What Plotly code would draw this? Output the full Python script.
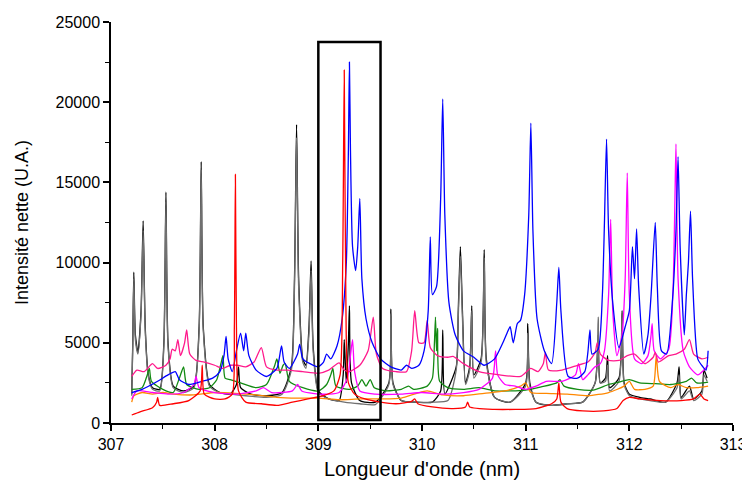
import plotly.graph_objects as go

# ---------------- data ----------------
black_x = [307.20,307.21,307.22,307.235,307.26,307.29,307.31,307.33,307.36,307.40,307.47,307.51,307.53,307.55,307.60,307.70,307.80,307.85,307.87,307.89,307.95,308.05,308.15,308.21,308.23,308.25,308.35,308.50,308.65,308.74,308.77,308.79,308.81,308.85,308.88,308.91,308.93,308.95,309.00,309.10,309.20,309.24,309.25,309.27,309.29,309.30,309.32,309.40,309.55,309.68,309.70,309.72,309.80,309.95,310.10,310.18,310.20,310.22,310.33,310.35,310.37,310.39,310.42,310.46,310.48,310.50,310.57,310.60,310.62,310.70,310.85,311.00,311.02,311.04,311.10,311.25,311.40,311.55,311.67,311.70,311.72,311.77,311.79,311.81,311.90,311.93,311.95,312.00,312.10,312.20,312.35,312.46,312.48,312.50,312.58,312.62,312.70,312.72,312.75]
black_y = [1800,5000,9400,5500,4400,7000,12600,6000,3000,2200,2100,5000,14400,5000,2300,2000,2300,6000,16300,6000,2400,1900,1800,2400,3500,2200,1800,1700,1900,3500,9000,18600,9000,4000,3600,6000,10100,4800,2000,1500,1400,3000,5200,2500,5000,7300,2500,1400,1300,2500,7100,2500,1400,1300,1300,2000,5800,1800,3500,7000,11000,7000,2500,3500,7300,3000,4000,10800,4000,1600,1300,2500,6200,2500,1300,1100,1200,1300,2500,5500,2500,2800,4200,2200,2800,7000,2500,1800,1600,1500,1300,2500,3500,1600,2300,1500,2000,3300,2800]

gray_x = [307.20,307.21,307.22,307.235,307.26,307.29,307.31,307.33,307.36,307.40,307.47,307.51,307.53,307.55,307.60,307.70,307.80,307.85,307.87,307.89,307.95,308.05,308.15,308.30,308.50,308.65,308.74,308.77,308.79,308.81,308.85,308.88,308.91,308.93,308.95,309.00,309.10,309.25,309.40,309.55,309.68,309.70,309.72,309.80,309.95,310.10,310.25,310.33,310.35,310.37,310.39,310.42,310.46,310.48,310.50,310.57,310.60,310.62,310.70,310.85,311.00,311.02,311.04,311.10,311.25,311.40,311.55,311.67,311.70,311.72,311.77,311.79,311.81,311.90,311.93,311.95,312.00,312.10,312.20,312.35,312.46,312.48,312.50,312.58,312.62,312.70,312.72,312.75]
gray_y = [1700,4800,9000,5200,4300,6800,12000,5800,2900,2100,2000,4800,13800,4800,2200,1900,2200,5800,15800,5800,2300,1900,1800,1700,1600,1800,3300,8500,17800,8500,3800,3400,5600,9500,4500,1900,1500,1300,1200,1150,2400,6800,2400,1400,1300,1300,1400,3300,6600,10400,6600,2400,3300,7000,2800,3800,10300,3800,1600,1300,2300,5600,2300,1300,1100,1200,1300,2500,6600,2500,2600,3600,2000,2600,6800,2400,1700,1500,1400,1300,2200,3000,1500,2000,1400,1800,3000,2600]

blue_x = [307.20,307.30,307.45,307.55,307.62,307.66,307.75,307.88,307.98,308.05,308.09,308.11,308.13,308.17,308.21,308.25,308.28,308.30,308.33,308.40,308.50,308.60,308.645,308.67,308.72,308.80,308.82,308.85,308.92,309.00,309.05,309.08,309.12,309.18,309.23,309.27,309.29,309.30,309.31,309.33,309.36,309.38,309.40,309.42,309.46,309.52,309.60,309.70,309.80,309.85,309.90,309.97,310.02,310.06,310.08,310.10,310.14,310.18,310.20,310.22,310.26,310.32,310.40,310.50,310.60,310.70,310.78,310.82,310.85,310.88,310.92,310.95,310.99,311.03,311.05,311.07,311.11,311.18,311.25,311.30,311.32,311.34,311.41,311.50,311.57,311.60,311.62,311.64,311.70,311.74,311.76,311.78,311.80,311.84,311.90,311.96,312.00,312.03,312.05,312.07,312.09,312.14,312.18,312.21,312.25,312.27,312.31,312.36,312.42,312.45,312.47,312.49,312.53,312.55,312.57,312.59,312.61,312.66,312.71,312.74,312.76]
blue_y = [1900,2100,2600,3000,3200,2700,2400,2600,2800,3200,4200,5400,4000,3200,4500,5600,4500,5600,4200,3300,2900,3400,4800,3800,3400,4300,4900,4000,3700,3500,3800,4300,4000,4800,6500,10000,17000,22500,17000,11000,9500,11000,14000,9000,6500,5000,4000,3500,3300,3600,3400,3600,4500,7000,11600,8000,8500,14000,20200,13000,7500,5500,4500,4100,3600,4000,5000,5600,6000,5000,6200,6400,8000,13000,18700,12000,6500,4500,3700,7500,9700,7000,2900,2800,3200,4400,5800,4300,4600,8000,12500,17700,12000,7500,4700,6000,7000,11000,9000,12100,8500,4300,5500,8000,12500,8500,4500,4300,8000,12000,16600,11000,5500,8000,10000,13200,9000,4000,3500,3300,4500]

red_x = [307.20,307.28,307.40,307.44,307.45,307.47,307.60,307.75,307.86,307.88,307.90,308.00,308.10,308.17,308.19,308.20,308.21,308.23,308.30,308.45,308.60,308.75,308.90,309.05,309.15,309.21,309.235,309.25,309.265,309.29,309.35,309.45,309.60,309.75,309.90,309.93,309.96,310.10,310.30,310.42,310.44,310.46,310.70,310.90,311.10,311.25,311.30,311.32,311.34,311.40,311.55,311.75,311.88,311.94,312.00,312.10,312.30,312.50,312.62,312.68,312.72,312.76]
red_y = [500,700,950,1300,1600,1100,1200,1400,2000,3600,1800,1500,1500,1800,6000,15500,6000,2000,1300,1200,1100,1300,1500,1700,2000,3000,10000,22000,8000,2500,1800,1500,1300,1200,1350,1500,1200,1000,900,1000,1300,1000,850,850,900,1200,1500,2500,1300,900,750,750,900,1400,1600,1500,1400,1400,1500,1800,1500,1400]

magenta_x = [307.20,307.25,307.40,307.55,307.70,307.80,307.82,307.85,308.00,308.20,308.40,308.47,308.55,308.75,308.80,308.84,309.00,309.20,309.28,309.31,309.33,309.35,309.40,309.55,309.80,310.00,310.20,310.40,310.55,310.68,310.71,310.73,310.80,310.90,311.00,311.10,311.20,311.35,311.48,311.51,311.55,311.60,311.67,311.72,311.76,311.80,311.82,311.84,311.88,311.93,311.96,311.98,312.00,312.05,312.12,312.18,312.21,312.22,312.24,312.30,312.38,312.42,312.44,312.45,312.47,312.52,312.58,312.66,312.72,312.76]
magenta_y = [1500,2000,1900,1800,1900,2400,2900,2200,1900,1800,2000,2200,1900,2000,2400,2000,1800,1900,2800,4200,5200,3200,2000,1800,1800,1900,1800,1900,2100,2800,4500,3000,2400,2300,2100,2300,2600,2600,3000,3700,2700,3000,3500,3700,4500,8000,12700,7000,4200,5500,9000,15600,8000,4000,3700,4200,5500,6200,4500,4000,4600,8000,14000,17400,9000,4500,3500,3000,3300,3600]

pink_x = [307.20,307.25,307.32,307.40,307.45,307.53,307.57,307.59,307.62,307.645,307.67,307.71,307.73,307.76,307.82,307.90,308.00,308.08,308.15,308.22,308.30,308.38,308.45,308.50,308.60,308.70,308.85,309.00,309.10,309.20,309.25,309.30,309.40,309.48,309.53,309.56,309.62,309.75,309.85,309.90,309.93,309.97,310.02,310.05,310.08,310.15,310.25,310.30,310.40,310.55,310.75,310.95,311.05,311.12,311.17,311.19,311.22,311.35,311.50,311.60,311.67,311.69,311.72,311.80,311.90,311.98,312.05,312.15,312.23,312.25,312.28,312.38,312.45,312.53,312.58,312.62,312.70,312.76]
pink_y = [2900,3300,3200,3700,3400,3600,4000,4600,4500,5200,4200,5000,5800,4300,3900,3800,3600,3400,3600,3600,3500,3800,4700,3500,3300,3300,3200,3100,3300,3750,3300,3200,3600,4500,6600,4300,3400,3200,3200,4500,7000,5000,5000,6400,4700,4200,4100,4150,3700,3200,3000,2900,3400,3200,3700,4400,3300,3300,3600,3800,4400,5000,4300,3900,3900,4200,4300,3700,4100,4400,3800,4200,4300,4600,5200,4300,4000,4100]

green_x = [307.20,307.30,307.35,307.37,307.39,307.50,307.60,307.66,307.70,307.73,307.85,307.95,308.02,308.06,308.08,308.10,308.15,308.25,308.40,308.50,308.58,308.60,308.63,308.66,308.68,308.72,308.85,309.00,309.08,309.12,309.14,309.17,309.30,309.38,309.42,309.46,309.50,309.54,309.65,309.80,309.87,309.92,310.05,310.10,310.12,310.13,310.14,310.15,310.17,310.25,310.40,310.55,310.70,310.85,311.00,311.15,311.30,311.33,311.37,311.50,311.65,311.80,311.90,312.00,312.10,312.25,312.40,312.55,312.60,312.65,312.76]
green_y = [2100,2200,3000,3400,2600,2100,1900,2800,3500,2400,2100,2200,2700,3700,4200,2800,2700,2500,2200,2400,3600,4000,3100,3600,3700,2600,2200,2000,2400,3000,3400,2300,2100,2300,2700,2300,2700,2200,2000,2100,2300,2100,2300,2800,5000,6600,4500,5900,2600,2200,2100,2200,2000,2000,2050,2250,2500,2700,2300,2100,2050,2400,2550,2700,2500,2450,2400,2600,2800,2500,2550]

orange_x = [307.20,307.22,307.30,307.40,307.50,307.60,307.80,308.00,308.20,308.40,308.60,308.80,309.00,309.20,309.40,309.60,309.80,309.95,310.05,310.20,310.40,310.60,310.80,310.95,311.00,311.05,311.20,311.40,311.60,311.80,311.95,312.00,312.05,312.15,312.23,312.26,312.29,312.40,312.47,312.55,312.65,312.76]
orange_y = [1300,1700,1900,1800,1900,1800,1750,1900,1850,1750,1600,1550,1550,1450,1500,1500,1550,1850,2000,1750,1700,1850,2000,2300,2500,1900,1850,1800,1700,1900,2300,2600,2100,2100,2300,4200,2600,2200,2400,2200,2200,2300]

# highlighted window (rectangle drawn on the chart)
box_x = [309.0, 309.6]
box_y = [180, 23750]

x_ticks = [307, 308, 309, 310, 311, 312, 313]
y_ticks = [0, 5000, 10000, 15000, 20000, 25000]

# ---------------- figure ----------------
series = [
    ("noir", black_x, black_y, "#000000"),
    ("gris", gray_x, gray_y, "#707070"),
    ("vert", green_x, green_y, "#138a13"),
    ("orange", orange_x, orange_y, "#ff8800"),
    ("magenta", magenta_x, magenta_y, "#ff00ff"),
    ("rose", pink_x, pink_y, "#ff1a8c"),
    ("bleu", blue_x, blue_y, "#0000ff"),
    ("rouge", red_x, red_y, "#ff0000"),
]

fig = go.Figure()
for name, xs, ys, col in series:
    fig.add_trace(go.Scatter(x=xs, y=ys, mode="lines", name=name,
                             line=dict(color=col, width=1.3, shape="spline", smoothing=0.6),
                             showlegend=False))

fig.add_shape(type="rect", x0=box_x[0], x1=box_x[1], y0=box_y[0], y1=box_y[1],
              xref="x", yref="y", line=dict(color="black", width=2.5))

axis_common = dict(showline=True, linecolor="black", linewidth=1.5, ticks="outside",
                   ticklen=6, tickwidth=1.5, tickcolor="black", showgrid=False,
                   zeroline=False, automargin=False, tickfont=dict(size=16, color="black"))

fig.update_xaxes(range=[307, 313], tickvals=x_ticks, ticktext=[str(v) for v in x_ticks], **axis_common,
                 minor=dict(ticks="outside", ticklen=4, tickwidth=1.2, tickcolor="black", dtick=0.5),
                 title=dict(text="Longueur d'onde (nm)", font=dict(size=20, color="black"), standoff=10))
fig.update_yaxes(range=[0, 25000], tickvals=y_ticks, ticktext=[str(v) for v in y_ticks], **axis_common,
                 minor=dict(ticks="outside", ticklen=4, tickwidth=1.2, tickcolor="black", dtick=2500),
                 title=dict(text="Intensité nette (U.A.)", font=dict(size=18, color="black"), standoff=22))

# the page adds an 8 px body margin, so the figure is 742x472 to fill the 750x480 window
fig.update_layout(width=742, height=472, plot_bgcolor="white", paper_bgcolor="white",
                  margin=dict(l=103, r=17, t=14, b=57),
                  font=dict(family="Liberation Sans, Arial, sans-serif"))

fig.write_html("out.html")
